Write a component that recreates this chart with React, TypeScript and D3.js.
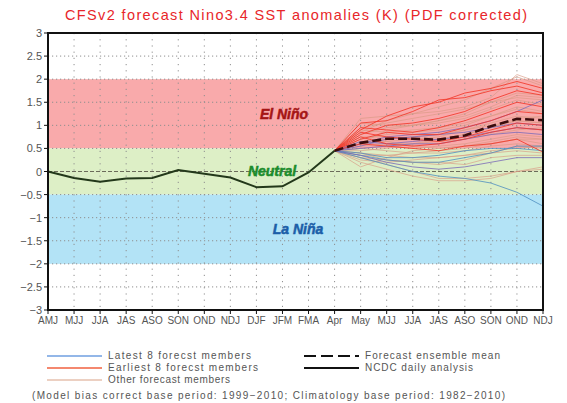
import React from "react"
import * as d3 from "d3"

// season labels along the x axis (index based, some repeat)
const seasons = ["AMJ", "MJJ", "JJA", "JAS", "ASO", "SON", "OND", "NDJ", "DJF", "JFM", "FMA", "Apr",
  "May", "MJJ", "JJA", "JAS", "ASO", "SON", "OND", "NDJ"]
const yTicks = [-3, -2.5, -2, -1.5, -1, -0.5, 0, 0.5, 1, 1.5, 2, 2.5, 3]

// NCDC daily analysis, AMJ .. Apr
const observed = [0, -0.14, -0.22, -0.15, -0.14, 0.03, -0.05, -0.13, -0.34, -0.32, -0.02, 0.45]

// forecasts start at Apr (index 11) and run to NDJ
const forecastStart = 11
const ensembleMean = [0.45, 0.62, 0.71, 0.71, 0.69, 0.78, 0.98, 1.14, 1.11]

const latestMembers = [
  [0.45, 0.3, 0.15, 0.0, -0.1, -0.15, -0.25, -0.45, -0.75],
  [0.45, 0.35, 0.25, 0.2, 0.2, 0.3, 0.4, 0.55, 0.55],
  [0.45, 0.4, 0.3, 0.3, 0.35, 0.45, 0.5, 0.5, 0.45],
  [0.45, 0.6, 0.75, 0.8, 0.85, 0.95, 1.1, 1.3, 1.55],
  [0.45, 0.55, 0.7, 0.75, 0.8, 0.85, 0.95, 1.05, 1.0],
  [0.45, 0.5, 0.55, 0.6, 0.6, 0.7, 0.8, 0.85, 0.8],
  [0.45, 0.35, 0.2, 0.1, 0.05, 0.1, 0.2, 0.3, 0.3],
  [0.45, 0.65, 0.6, 0.65, 0.7, 0.75, 0.85, 0.95, 0.9],
]

const earliestMembers = [
  [0.45, 0.9, 1.2, 1.4, 1.5, 1.7, 1.8, 1.95, 1.8],
  [0.45, 1.05, 1.1, 1.3, 1.55, 1.6, 1.75, 1.85, 1.7],
  [0.45, 0.8, 1.0, 1.05, 1.15, 1.3, 1.55, 1.75, 1.65],
  [0.45, 0.95, 0.9, 0.85, 0.95, 1.1, 1.3, 1.5, 1.4],
  [0.45, 0.7, 0.85, 0.8, 0.8, 0.95, 1.1, 1.3, 1.25],
  [0.45, 0.75, 0.6, 0.55, 0.6, 0.7, 0.85, 0.95, 0.9],
  [0.45, 0.6, 0.55, 0.5, 0.45, 0.55, 0.6, 0.7, 0.42],
  [0.45, 0.85, 0.75, 0.7, 0.65, 0.75, 0.9, 1.05, 1.0],
]

const otherMembers = [
  [0.45, 0.1, 0.3, 0.45, 0.5, 0.55, 0.6, 0.7, 0.6],
  [0.45, 0.3, 0.15, 0.0, -0.15, -0.15, -0.1, 0.0, 0.1],
  [0.45, 0.3, 0.25, 0.2, 0.2, 0.15, 0.3, 0.35, 0.35],
  [0.45, 0.6, 0.9, 1.0, 1.1, 1.25, 1.5, 1.7, 1.65],
  [0.45, 1.15, 1.2, 1.25, 1.3, 1.4, 1.6, 2.1, 1.9],
  [0.45, 0.95, 1.05, 1.15, 1.25, 1.35, 1.5, 1.6, 1.55],
  [0.45, 0.7, 0.8, 0.85, 0.9, 1.0, 1.2, 1.4, 1.3],
  [0.45, 0.55, 0.6, 0.6, 0.65, 0.7, 0.8, 0.9, 0.95],
  [0.45, 0.5, 0.45, 0.4, 0.4, 0.45, 0.55, 0.6, 0.55],
  [0.45, 0.65, 0.7, 0.75, 0.8, 0.9, 1.05, 1.2, 1.15],
  [0.45, 0.8, 0.95, 1.0, 1.05, 1.15, 1.35, 1.55, 1.45],
  [0.45, 0.4, 0.35, 0.3, 0.3, 0.35, 0.45, 0.5, 0.55],
  [0.45, 0.6, 0.65, 0.7, 0.75, 0.9, 1.0, 1.1, 1.05],
  [0.45, 0.75, 0.75, 0.7, 0.7, 0.8, 0.95, 1.15, 1.2],
  [0.45, 0.9, 0.85, 0.9, 0.95, 1.05, 1.2, 1.35, 1.25],
  [0.45, 0.5, 0.55, 0.5, 0.55, 0.6, 0.7, 0.8, 0.75],
  [0.45, 0.35, 0.35, 0.4, 0.45, 0.5, 0.6, 0.7, 0.7],
  [0.45, 1.05, 1.0, 1.0, 1.1, 1.2, 1.4, 1.65, 1.6],
  [0.45, 0.25, 0.2, 0.25, 0.3, 0.35, 0.4, 0.45, 0.4],
  [0.45, 0.6, 0.65, 0.55, 0.5, 0.55, 0.65, 0.75, 0.7],
  [0.45, 0.2, 0.05, -0.1, -0.2, -0.2, -0.15, 0.0, 0.05],
  [0.45, 0.85, 1.1, 1.25, 1.4, 1.55, 1.8, 2.05, 1.85],
  [0.45, 0.45, 0.5, 0.6, 0.7, 0.8, 0.95, 1.1, 1.05],
  [0.45, 0.4, 0.25, 0.2, 0.15, 0.25, 0.4, 0.55, 0.5],
]

const bands = [
  { name: "El Niño", lo: 0.5, hi: 2, fill: "#f9aaab", text: "#a51515", at: 1.25, cx: 284 },
  { name: "Neutral", lo: -0.5, hi: 0.5, fill: "#ddefc6", text: "#1c8c2c", at: 0.02, cx: 272 },
  { name: "La Niña", lo: -2, hi: -0.5, fill: "#b3e3f6", text: "#1b5ea8", at: -1.25, cx: 298 },
]

const font = "'Liberation Sans', Arial, sans-serif"

export default function App() {
  const W = 567, H = 403
  const left = 48, right = 543, top = 33, bottom = 310

  const x = d3.scaleLinear().domain([0, seasons.length - 1]).range([left, right])
  const y = d3.scaleLinear().domain([-3, 3]).range([bottom, top])

  const line = d3.line<number>().x((d, i) => x(i)).y(d => y(d))
  const fcLine = d3.line<number>().x((d, i) => x(i + forecastStart)).y(d => y(d))

  return (
    <svg width={W} height={H} style={{ position: "absolute", left: 0, top: 0, background: "#fff" }}
      fontFamily={font}>
      <text x={296} y={20} textAnchor="middle" fill="#e8262a" fontSize={14.5}
        textLength={462} lengthAdjust="spacing">
        CFSv2 forecast Nino3.4 SST anomalies (K) (PDF corrected)
      </text>

      {bands.map(b => (
        <rect key={b.name} x={left} width={right - left} y={y(b.hi)} height={y(b.lo) - y(b.hi)} fill={b.fill} />
      ))}

      {/* dotted grid */}
      {yTicks.slice(1, -1).map(t => (
        <line key={"gy" + t} x1={left} x2={right} y1={y(t)} y2={y(t)}
          stroke={t === 0 ? "#6b6b5a" : "#8f8f8f"} strokeWidth={1}
          strokeDasharray={t === 0 ? "4,2" : "1.2,2.8"} />
      ))}
      {seasons.slice(1, -1).map((s, i) => (
        <line key={"gx" + i} x1={x(i + 1)} x2={x(i + 1)} y1={top} y2={bottom}
          stroke="#8f8f8f" strokeWidth={1} strokeDasharray="1.2,5" />
      ))}

      {bands.map(b => (
        <text key={"l" + b.name} x={b.cx} y={y(b.at) + 5} textAnchor="middle" fill={b.text}
          stroke={b.text} strokeWidth={0.5}
          fontSize={14} fontWeight="bold" fontStyle="italic">{b.name}</text>
      ))}

      {/* members */}
      <g fill="none" strokeWidth={1}>
        {otherMembers.map((m, i) => (
          <path key={"o" + i} d={fcLine(m) || ""} stroke="#d99a84" strokeOpacity={0.65} />
        ))}
        {latestMembers.map((m, i) => (
          <path key={"b" + i} d={fcLine(m) || ""} stroke={i < 3 ? "#4f8fc0" : "#7a6ab8"} strokeOpacity={0.8} />
        ))}
        {earliestMembers.map((m, i) => (
          <path key={"r" + i} d={fcLine(m) || ""} stroke="#f2382a" strokeOpacity={0.85} />
        ))}
      </g>

      <path d={fcLine(ensembleMean) || ""} fill="none" stroke="#3a0c0c" strokeWidth={2.6} strokeDasharray="9,4" />
      <path d={line(observed) || ""} fill="none" stroke="#23381a" strokeWidth={2} />

      <rect x={left} y={top} width={right - left} height={bottom - top} fill="none" stroke="#111" strokeWidth={2} />

      {/* y axis */}
      {yTicks.map(t => (
        <g key={"y" + t}>
          <line x1={left - 4} x2={left} y1={y(t)} y2={y(t)} stroke="#111" />
          <text x={left - 6} y={y(t) + 4} textAnchor="end" fontSize={11} fill="#555">
            {t < 0 ? "\u2212" + Math.abs(t) : t}
          </text>
        </g>
      ))}
      {/* x axis */}
      {seasons.map((s, i) => (
        <g key={"x" + i}>
          <line x1={x(i)} x2={x(i)} y1={bottom} y2={bottom + 4} stroke="#111" />
          <text x={x(i)} y={bottom + 14} textAnchor="middle" fontSize={10} fill="#555">{s}</text>
        </g>
      ))}

      {/* legend */}
      <g fontSize={10}>
        <line x1={47} x2={102} y1={356} y2={356} stroke="#6f9fe0" strokeWidth={1.5} />
        <text x={108} y={359} fill="#555" textLength={143} lengthAdjust="spacing">Latest 8 forecst members</text>
        <line x1={47} x2={102} y1={368} y2={368} stroke="#f0603f" strokeWidth={1.5} />
        <text x={108} y={371} fill="#555" textLength={150} lengthAdjust="spacing">Earliest 8 forecst members</text>
        <line x1={47} x2={102} y1={380} y2={380} stroke="#e6c0ae" strokeWidth={1.5} />
        <text x={108} y={383} fill="#555" textLength={122} lengthAdjust="spacing">Other forecast members</text>
        <line x1={304} x2={359} y1={356} y2={356} stroke="#111" strokeWidth={2} strokeDasharray="12,5" />
        <text x={365} y={359} fill="#555" textLength={135} lengthAdjust="spacing">Forecast ensemble mean</text>
        <line x1={304} x2={359} y1={368} y2={368} stroke="#111" strokeWidth={2} />
        <text x={365} y={371} fill="#555" textLength={108} lengthAdjust="spacing">NCDC daily analysis</text>
        <text x={32} y={399} fill="#555" textLength={473} lengthAdjust="spacing">
          (Model bias correct base period: 1999−2010; Climatology base period: 1982−2010)
        </text>
      </g>
    </svg>
  )
}
